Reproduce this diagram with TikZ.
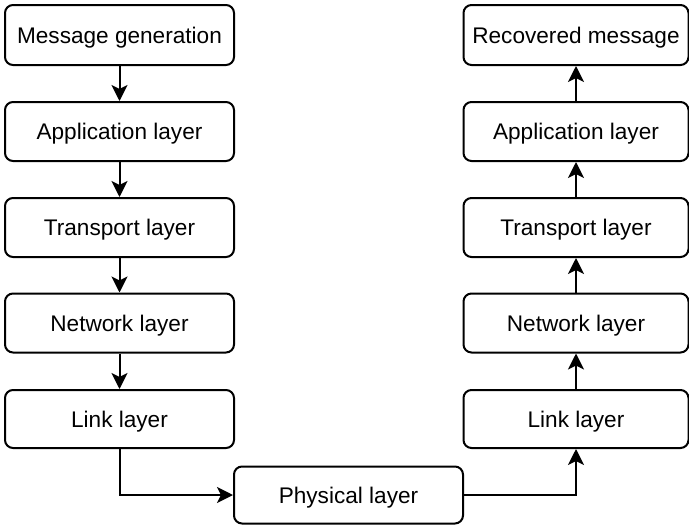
\documentclass[tikz,border=0pt]{standalone}
\usepackage{fontspec}
\setmainfont{Liberation Sans}
\usetikzlibrary{arrows.meta}
\begin{document}
\begin{tikzpicture}[x=1pt,y=-1pt,
  layerbox/.style={draw=black, line width=2pt, rounded corners=8pt, fill=white,
    inner sep=0pt, text height=18.5pt, text depth=2.3pt,
    font=\fontsize{22.6pt}{26pt}\selectfont},
  flow/.style={line width=2pt, -{Stealth[length=16pt,width=16pt,inset=4pt]}}]
  \useasboundingbox (0,0) rectangle (689,525);
  % sending side (left column)
  \node[layerbox, minimum width=229pt, minimum height=60pt] (mg) at (119.5,35) {Message generation};
  \node[layerbox, minimum width=229pt, minimum height=59pt] (la) at (119.5,131.5) {Application layer};
  \node[layerbox, minimum width=229pt, minimum height=59pt] (lt) at (119.5,227.5) {Transport layer};
  \node[layerbox, minimum width=229pt, minimum height=59pt] (ln) at (119.5,323) {Network layer};
  \node[layerbox, minimum width=229pt, minimum height=58pt] (ll) at (119.5,419) {Link layer};
  % shared medium
  \node[layerbox, minimum width=229pt, minimum height=57pt] (ph) at (348.5,495) {Physical layer};
  % receiving side (right column)
  \node[layerbox, minimum width=225pt, minimum height=60pt] (rm) at (576,35) {Recovered message};
  \node[layerbox, minimum width=225pt, minimum height=59pt] (ra) at (576,131.5) {Application layer};
  \node[layerbox, minimum width=225pt, minimum height=59pt] (rt) at (576,227.5) {Transport layer};
  \node[layerbox, minimum width=225pt, minimum height=59pt] (rn) at (576,323) {Network layer};
  \node[layerbox, minimum width=225pt, minimum height=58pt] (rl) at (576,419) {Link layer};
  % downward path
  \draw[flow] (mg) -- (la);
  \draw[flow] (la) -- (lt);
  \draw[flow] (lt) -- (ln);
  \draw[flow] (ln) -- (ll);
  \draw[flow] (ll.south) |- (ph.west);
  % upward path
  \draw[flow] (ph.east) -| (rl.south);
  \draw[flow] (rl) -- (rn);
  \draw[flow] (rn) -- (rt);
  \draw[flow] (rt) -- (ra);
  \draw[flow] (ra) -- (rm);
\end{tikzpicture}
\end{document}
